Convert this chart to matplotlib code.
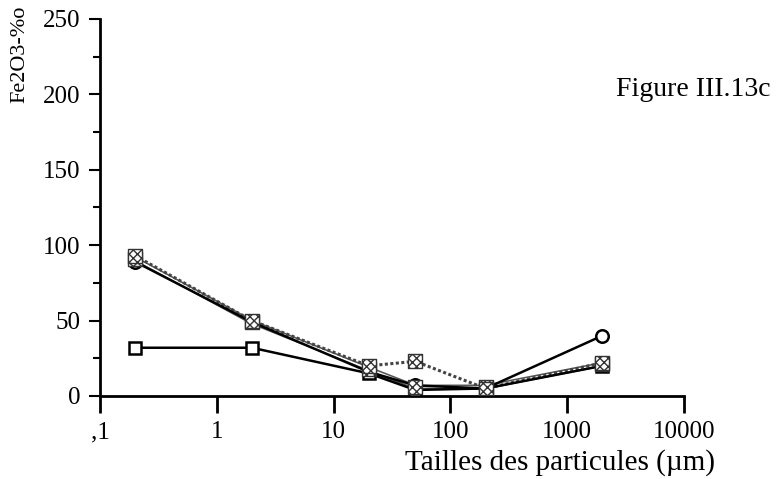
import matplotlib
matplotlib.use("Agg")
import matplotlib.pyplot as plt
from matplotlib.ticker import FixedLocator, FixedFormatter, MultipleLocator, NullLocator

# Data
sizes = [0.2, 2, 20, 50, 200, 2000]
serie_cercles = [89, 49, 16, 7, 5, 40]
serie_carres = [32, 32, 15, 4, 5, 20]
serie_hachures_pointille = [93, 50, 20, 23, 5, 22]
serie_hachures_plein = [91, 49, 18, 6, 6, 21]
xtick_vals = [0.1, 1, 10, 100, 1000, 10000]
xtick_labels = [",1", "1", "10", "100", "1000", "10000"]
ytick_vals = [0, 50, 100, 150, 200, 250]

plt.rcParams['font.family'] = ['Liberation Serif', 'DejaVu Serif']

fig = plt.figure(figsize=(7.76, 4.79), dpi=100)
ax = fig.add_axes([100/776, 83/479, 584/776, 377/479])

ax.set_xscale('log')
ax.set_xlim(0.1, 10000)
ax.set_ylim(0, 250)

# gray solid hatched series (thick gray)
ax.plot(sizes, serie_hachures_plein, color='#555555', lw=3.5, zorder=2)
ax.plot(sizes, serie_hachures_plein, color='white', lw=1.2, zorder=2)
# dotted hatched series
ax.plot(sizes, serie_hachures_pointille, color='#444444', lw=2.2, ls=(0, (1, 0.8)), zorder=2)
# circles
ax.plot(sizes, serie_cercles, color='black', lw=1.8, marker='o', ms=9,
        mfc='white', mec='black', mew=1.8, zorder=4)
# squares
ax.plot(sizes, serie_carres, color='black', lw=1.8, marker='s', ms=9,
        mfc='white', mec='black', mew=1.8, zorder=4)
# hatched markers
ax.scatter(sizes, serie_hachures_plein, marker='s', s=100, facecolor='white',
           edgecolor='#333333', hatch='xxxx', lw=1.0, zorder=5)
ax.scatter(sizes, serie_hachures_pointille, marker='s', s=100, facecolor='white',
           edgecolor='#333333', hatch='xxxx', lw=1.0, zorder=5)

for s in ['top', 'right']:
    ax.spines[s].set_visible(False)
for s in ['left', 'bottom']:
    ax.spines[s].set_linewidth(2)

ax.xaxis.set_major_locator(FixedLocator(xtick_vals))
ax.xaxis.set_major_formatter(FixedFormatter(xtick_labels))
ax.xaxis.set_minor_locator(NullLocator())
ax.yaxis.set_major_locator(FixedLocator(ytick_vals))
ax.yaxis.set_minor_locator(MultipleLocator(25))

ax.tick_params(axis='x', which='major', direction='out', length=12, width=2,
               labelsize=18, pad=6)
ax.tick_params(axis='y', which='major', direction='out', length=8, width=1.5,
               labelsize=18, pad=6)
ax.tick_params(axis='y', which='minor', direction='out', length=5, width=1.5)

ax.set_xlabel("Tailles des particules (µm)", fontsize=21, va='center')
ax.xaxis.set_label_coords(460/584, -67/377)

fig.text(20/776, 1 - 54/479, "Fe2O3-%o", fontsize=16, rotation=90,
         ha='center', va='center')

fig.text(770/776, 1 - 90/479, "Figure III.13c", fontsize=20, ha='right', va='center')

fig.savefig("out.png", dpi=100)
